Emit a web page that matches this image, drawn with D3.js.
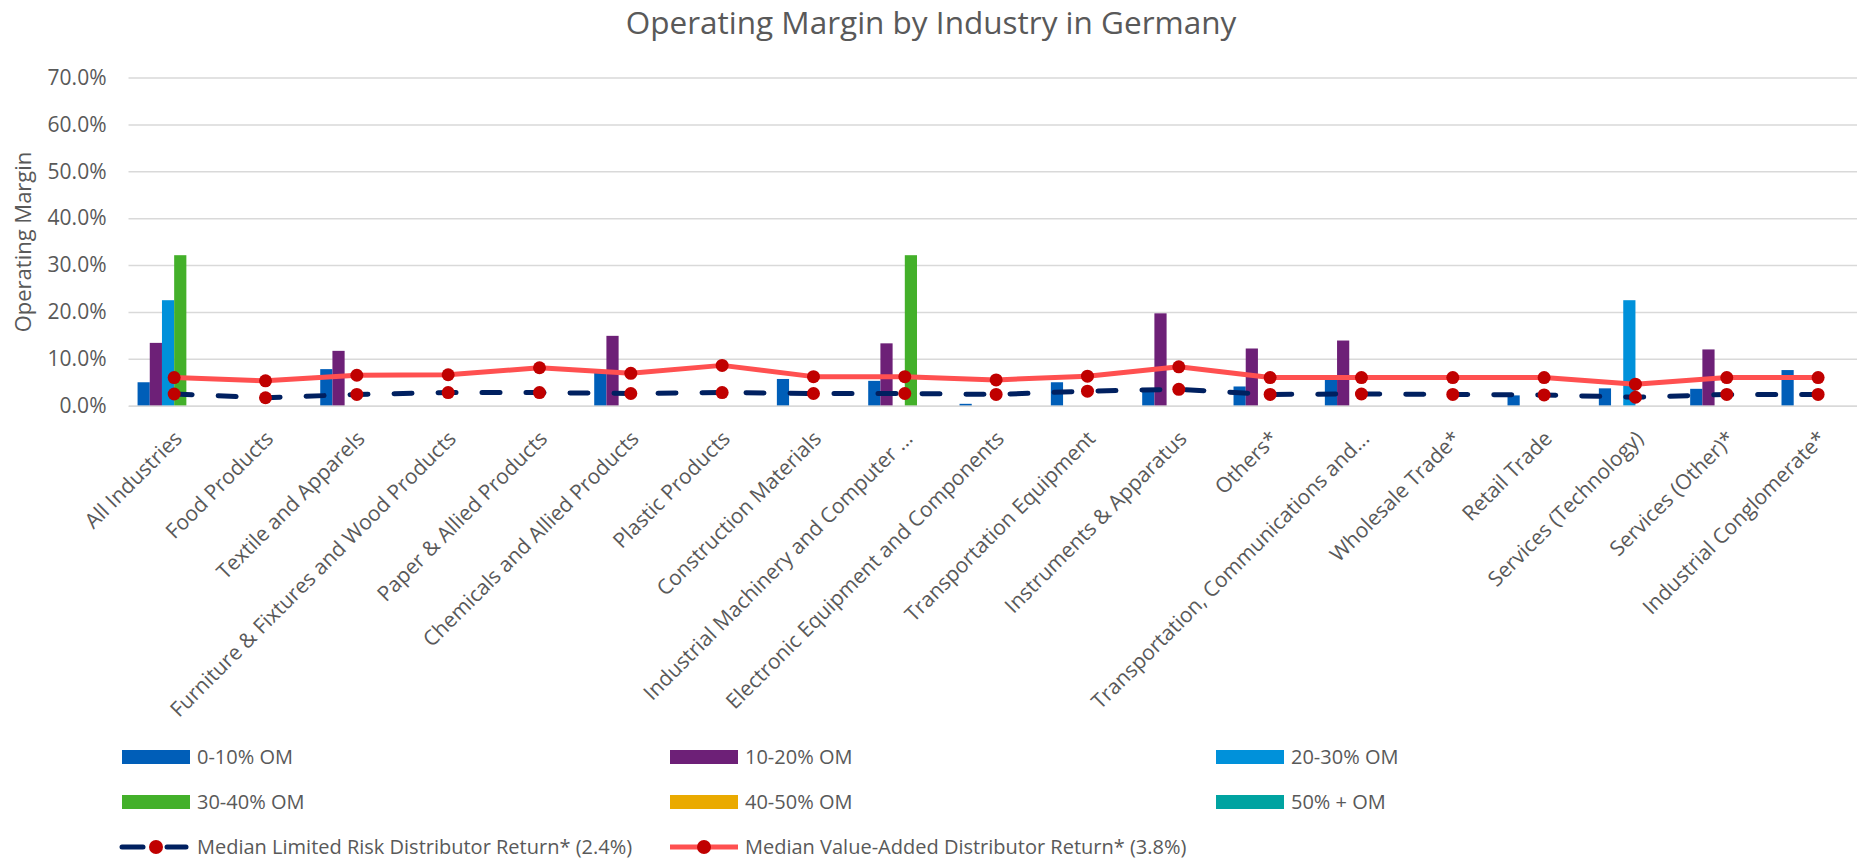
<!DOCTYPE html>
<html>
<head>
<meta charset="utf-8">
<script src="https://cdn.jsdelivr.net/npm/d3@7"></script>
<style>
  body { margin: 0; background: #fff; }
  svg { display: block; font-family: "Open Sans", sans-serif; }
</style>
</head>
<body>
<div id="chart"></div>
<script>
// Data (values in %)
const categories = [
  "All Industries", "Food Products", "Textile and Apparels",
  "Furniture & Fixtures and Wood Products", "Paper & Allied Products",
  "Chemicals and Allied Products", "Plastic Products", "Construction Materials",
  "Industrial Machinery and Computer ...", "Electronic Equipment and Components",
  "Transportation Equipment", "Instruments & Apparatus", "Others*",
  "Transportation, Communications and...", "Wholesale Trade*", "Retail Trade",
  "Services (Technology)", "Services (Other)*", "Industrial Conglomerate*"
];

const seriesNames = ["0-10% OM", "10-20% OM", "20-30% OM", "30-40% OM", "40-50% OM", "50% + OM"];
const seriesColors = ["#005eb8", "#6d2077", "#0091da", "#43b02a", "#eaaa00", "#00a3a1"];

const om0to10  = [5.0, null, 7.8, null, null, 7.0, null, 5.7, 5.3, 0.4, 5.0, 3.5, 4.1, 5.8, null, 2.2, 3.7, 3.6, 7.6];
const om10to20 = [13.4, null, 11.7, null, null, 14.9, null, null, 13.3, null, null, 19.7, 12.2, 13.9, null, null, null, 12.0, null];
const om20to30 = [22.5, null, null, null, null, null, null, null, null, null, null, null, null, null, null, null, 22.5, null, null];
const om30to40 = [32.1, null, null, null, null, null, null, null, 32.1, null, null, null, null, null, null, null, null, null, null];
const om40to50 = categories.map(() => null);
const om50plus = categories.map(() => null);

const limitedRiskName = "Median Limited Risk Distributor Return* (2.4%)";
const limitedRisk = [2.5, 1.7, 2.4, 2.8, 2.8, 2.6, 2.8, 2.6, 2.6, 2.4, 3.1, 3.5, 2.4, 2.5, 2.4, 2.3, 1.8, 2.4, 2.4];
const valueAddedName = "Median Value-Added Distributor Return* (3.8%)";
const valueAdded = [6.0, 5.3, 6.5, 6.6, 8.1, 6.9, 8.6, 6.2, 6.2, 5.5, 6.3, 8.3, 6.0, 6.0, 6.0, 6.0, 4.6, 6.0, 6.0];

const yTicks = [0, 10, 20, 30, 40, 50, 60, 70];

const barSeries = [om0to10, om10to20, om20to30, om30to40, om40to50, om50plus];

// Layout
const W = 1857, H = 859;
const plotLeft = 128.5, plotTop = 77.5, plotBottom = 405.7;
const step = 91.33;
const plotRight = plotLeft + step * categories.length;
const textColor = "#595959";
const gridColor = "#d9d9d9";

const svg = d3.select("#chart")
  .append("svg")
  .attr("width", W)
  .attr("height", H);

svg.append("rect").attr("width", W).attr("height", H).attr("fill", "#fff");

// Scales
const x0 = d3.scaleBand()
  .domain(categories)
  .range([plotLeft, plotRight])
  .padding(0);

const x1 = d3.scaleBand()
  .domain(seriesNames)
  .range([0, x0.bandwidth()])
  .paddingInner(0)
  .paddingOuter(0.743);

const y = d3.scaleLinear()
  .domain([0, 70])
  .range([plotBottom, plotTop]);

// Title
svg.append("text")
  .attr("x", 931)
  .attr("y", 34)
  .attr("text-anchor", "middle")
  .attr("fill", textColor)
  .style("font-size", "31.5px")
  .text("Operating Margin by Industry in Germany");

// Y axis with gridlines
const yAxis = svg.append("g")
  .attr("class", "y-axis")
  .attr("transform", `translate(${plotLeft},0)`)
  .call(d3.axisLeft(y)
    .tickValues(yTicks)
    .tickSize(-(plotRight - plotLeft))
    .tickPadding(22)
    .tickFormat(d => d3.format(".1f")(d) + "%"));

yAxis.select(".domain").remove();
yAxis.selectAll(".tick line")
  .attr("stroke", gridColor)
  .attr("stroke-width", 1.5);
yAxis.selectAll(".tick text")
  .attr("fill", textColor)
  .style("font-size", "21px")
  .style("font-family", "Open Sans");

// Y axis title
svg.append("text")
  .attr("transform", `translate(31, 242) rotate(-90)`)
  .attr("text-anchor", "middle")
  .attr("fill", textColor)
  .style("font-size", "22px")
  .text("Operating Margin");

// Bars
const groups = svg.append("g")
  .selectAll("g")
  .data(seriesNames)
  .join("g")
  .attr("fill", (d, i) => seriesColors[i]);

groups.selectAll("rect")
  .data((name, i) => categories.map((c, j) => ({ cat: c, name, v: barSeries[i][j] })).filter(d => d.v != null))
  .join("rect")
  .attr("x", d => x0(d.cat) + x1(d.name))
  .attr("y", d => y(d.v))
  .attr("width", x1.bandwidth())
  .attr("height", d => y(0) - y(d.v));

// X axis
const xAxis = svg.append("g")
  .attr("class", "x-axis")
  .attr("transform", `translate(0,${plotBottom})`)
  .call(d3.axisBottom(x0).tickSize(0).tickSizeOuter(0).tickPadding(0));

xAxis.select(".domain")
  .attr("stroke", gridColor)
  .attr("stroke-width", 1.5);
xAxis.selectAll(".tick text")
  .attr("fill", textColor)
  .attr("text-anchor", "end")
  .attr("x", 0)
  .attr("y", 0)
  .attr("dy", "0.35em")
  .attr("transform", "translate(4,29) rotate(-45)")
  .style("font-size", "21px")
  .style("font-family", "Open Sans");

// Lines
const cx = d => x0(d.cat) + x0.bandwidth() / 2;
const lineGen = d3.line().x(cx).y(d => y(d.v));

function drawLine(values, color, dashed) {
  const pts = categories.map((c, i) => ({ cat: c, v: values[i] }));
  svg.append("path")
    .datum(pts)
    .attr("d", lineGen)
    .attr("fill", "none")
    .attr("stroke", color)
    .attr("stroke-width", 5)
    .attr("stroke-linecap", dashed ? "round" : "butt")
    .attr("stroke-linejoin", "round")
    .attr("stroke-dasharray", dashed ? "18,26" : null);
  svg.append("g")
    .selectAll("circle")
    .data(pts)
    .join("circle")
    .attr("cx", cx)
    .attr("cy", d => y(d.v))
    .attr("r", 6.5)
    .attr("fill", "#c00000");
}

drawLine(limitedRisk, "#002060", true);
drawLine(valueAdded, "#ff5050", false);

// Legend
const legendCols = [122, 670, 1216];
const legendRows = [757, 802, 847];

const barLegend = svg.append("g")
  .selectAll("g")
  .data(seriesNames)
  .join("g")
  .attr("transform", (d, i) => `translate(${legendCols[i % 3]},${legendRows[Math.floor(i / 3)]})`);

barLegend.append("rect")
  .attr("x", 0)
  .attr("y", -7)
  .attr("width", 68)
  .attr("height", 14)
  .attr("fill", (d, i) => seriesColors[i]);

barLegend.append("text")
  .attr("x", 75)
  .attr("dy", "0.35em")
  .attr("fill", textColor)
  .style("font-size", "20px")
  .text(d => d);

const lineLegend = svg.append("g")
  .selectAll("g")
  .data([
    { name: limitedRiskName, color: "#002060", dashed: true },
    { name: valueAddedName, color: "#ff5050", dashed: false }
  ])
  .join("g")
  .attr("transform", (d, i) => `translate(${legendCols[i]},${legendRows[2]})`);

lineLegend.each(function (d) {
  const g = d3.select(this);
  if (d.dashed) {
    g.append("line").attr("x1", 0).attr("x2", 21).attr("stroke", d.color)
      .attr("stroke-width", 5).attr("stroke-linecap", "round");
    g.append("line").attr("x1", 45).attr("x2", 64).attr("stroke", d.color)
      .attr("stroke-width", 5).attr("stroke-linecap", "round");
  } else {
    g.append("line").attr("x1", 0).attr("x2", 68).attr("stroke", d.color)
      .attr("stroke-width", 5);
  }
  g.append("circle").attr("cx", 34).attr("r", 7).attr("fill", "#c00000");
  g.append("text")
    .attr("x", 75)
    .attr("dy", "0.35em")
    .attr("fill", textColor)
    .style("font-size", "20px")
    .text(d.name);
});
</script>
</body>
</html>
